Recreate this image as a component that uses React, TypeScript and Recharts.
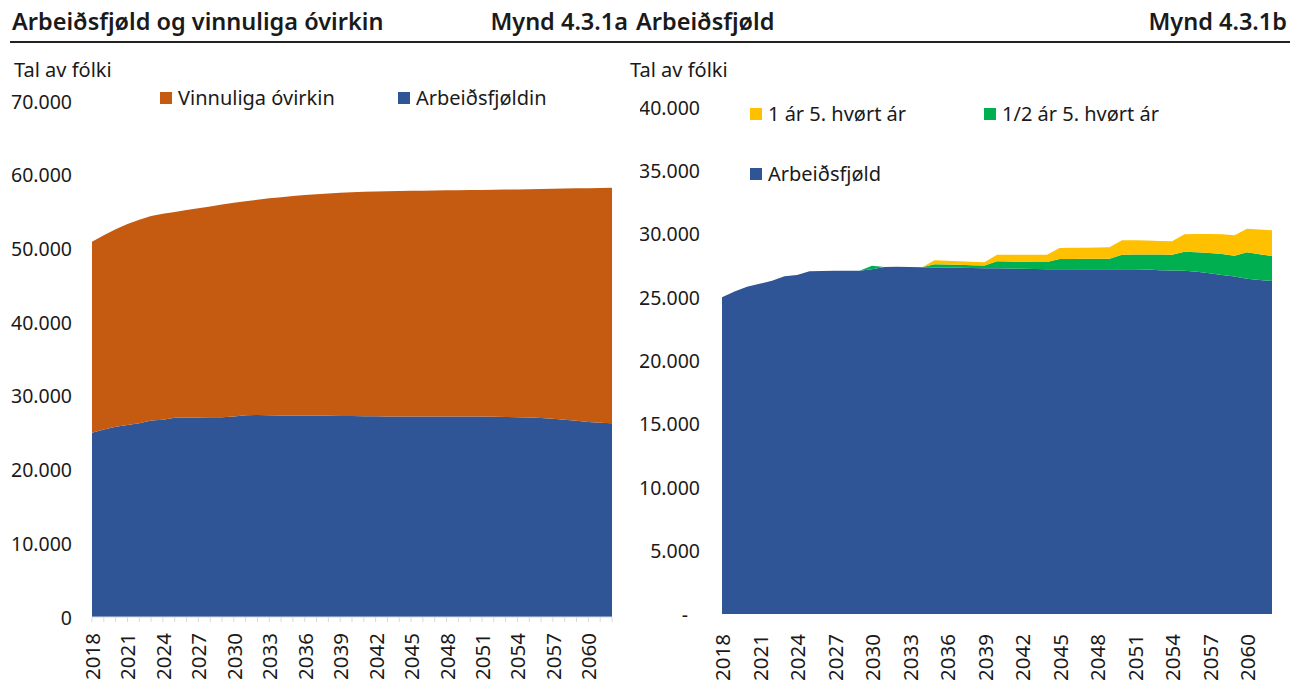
import React from 'react';
import { AreaChart, Area, XAxis, YAxis } from 'recharts';

const years = [
  '2018', '2019', '2020', '2021', '2022', '2023', '2024', '2025', '2026', '2027',
  '2028', '2029', '2030', '2031', '2032', '2033', '2034', '2035', '2036', '2037',
  '2038', '2039', '2040', '2041', '2042', '2043', '2044', '2045', '2046', '2047',
  '2048', '2049', '2050', '2051', '2052', '2053', '2054', '2055', '2056', '2057',
  '2058', '2059', '2060', '2061', '2062',
];

// Arbeiðsfjøld (same series in both panels)
const arbeidsfjold = [
  25000, 25450, 25820, 26050, 26300, 26650, 26750, 27040, 27060, 27080,
  27090, 27090, 27200, 27380, 27390, 27380, 27350, 27340, 27330, 27320,
  27300, 27280, 27270, 27250, 27230, 27210, 27200, 27190, 27190, 27190,
  27190, 27190, 27190, 27190, 27170, 27130, 27100, 27080, 27000, 26880,
  26750, 26620, 26450, 26360, 26270,
];

const ovirkin = [
  25900, 26350, 26780, 27250, 27600, 27750, 27950, 27910, 28140, 28370,
  28610, 28860, 29000, 29020, 29210, 29420, 29600, 29760, 29920, 30030,
  30150, 30270, 30350, 30430, 30490, 30550, 30590, 30630, 30650, 30670,
  30690, 30710, 30730, 30750, 30790, 30850, 30900, 30950, 31060, 31210,
  31370, 31530, 31730, 31850, 31970,
];

// extra on top of arbeiðsfjøld, 1/2 ár 5. hvørt ár
const halvtAr = [
  0, 0, 0, 0, 0, 0, 0, 0, 0, 0,
  0, 0, 280, 0, 0, 0, 0, 250, 240, 230,
  220, 210, 560, 560, 565, 565, 570, 820, 825, 830,
  835, 840, 1160, 1180, 1200, 1230, 1250, 1500, 1550, 1600,
  1650, 1650, 2090, 2030, 1970,
];

// extra on top of that, 1 ár 5. hvørt ár
const eittAr = [
  0, 0, 0, 0, 0, 0, 0, 0, 0, 0,
  0, 0, 0, 0, 0, 0, 0, 310, 300, 290,
  280, 270, 520, 535, 550, 565, 580, 870, 875, 885,
  890, 900, 1130, 1110, 1090, 1070, 1050, 1380, 1440, 1500,
  1560, 1610, 1860, 1950, 2030,
];

const leftTicks = [0, 10000, 20000, 30000, 40000, 50000, 60000, 70000];
const rightTicks = [0, 5000, 10000, 15000, 20000, 25000, 30000, 35000, 40000];

const BLUE = '#2F5597';
const ORANGE = '#C55A11';
const GREEN = '#00B050';
const YELLOW = '#FFC000';
const TEXT = '#1a1a1a';
const FONT = '"Noto Sans", sans-serif';

const data = years.map((y, i) => ({
  year: y,
  arbeidsfjold: arbeidsfjold[i],
  ovirkin: ovirkin[i],
  halvtAr: halvtAr[i],
  eittAr: eittAr[i],
}));

const fmt = (v: number) => String(v).replace(/\B(?=(\d{3})+(?!\d))/g, '.');

const YTick = (props: any) => {
  const { x, y, payload, dash } = props;
  const v = payload.value as number;
  if (dash && v === 0) {
    return (
      <text x={x - 12} y={y} textAnchor="end" dominantBaseline="central" fontSize={19.5} fill={TEXT} fontFamily={FONT}>
        -
      </text>
    );
  }
  return (
    <text x={x} y={y} textAnchor="end" dominantBaseline="central" fontSize={19.5} fill={TEXT} fontFamily={FONT}>
      {fmt(v)}
    </text>
  );
};

const XTick = (props: any) => {
  const { x, y, payload, index, offset } = props;
  if (index % 3 !== 0) return <g />;
  return (
    <text
      transform={`translate(${x},${y + offset}) rotate(-90)`}
      textAnchor="end"
      dominantBaseline="central"
      fontSize={20.5}
      fill={TEXT}
      fontFamily={FONT}
    >
      {payload.value}
    </text>
  );
};

const Swatch = ({ color, x, y, label }: { color: string; x: number; y: number; label: string }) => (
  <div style={{ position: 'absolute', left: x, top: y, display: 'flex', alignItems: 'center', fontSize: 20, color: TEXT }}>
    <span style={{ width: 12, height: 12, background: color, display: 'inline-block', marginRight: 6 }} />
    {label}
  </div>
);

const titleStyle = { position: 'absolute' as const, top: 5, fontSize: 23.5, fontWeight: 600 };

export default function App() {
  return (
    <div style={{ position: 'absolute', left: 0, top: 0, width: 1290, height: 695, background: '#fff', fontFamily: FONT, color: TEXT }}>
      <div style={{ ...titleStyle, left: 12 }}>Arbeiðsfjøld og vinnuliga óvirkin</div>
      <div style={{ ...titleStyle, right: 1290 - 628 }}>Mynd 4.3.1a</div>
      <div style={{ ...titleStyle, left: 636 }}>Arbeiðsfjøld</div>
      <div style={{ ...titleStyle, right: 3 }}>Mynd 4.3.1b</div>
      <div style={{ position: 'absolute', left: 10, top: 41, width: 1280, height: 2, background: '#222' }} />

      <div style={{ position: 'absolute', left: 14, top: 56, fontSize: 20 }}>Tal av fólki</div>
      <div style={{ position: 'absolute', left: 630, top: 56, fontSize: 20 }}>Tal av fólki</div>

      <Swatch color={ORANGE} x={160} y={84} label="Vinnuliga óvirkin" />
      <Swatch color={BLUE} x={398} y={84} label="Arbeiðsfjøldin" />

      <Swatch color={YELLOW} x={750} y={100} label="1 ár 5. hvørt ár" />
      <Swatch color={GREEN} x={984} y={100} label="1/2 ár 5. hvørt ár" />
      <Swatch color={BLUE} x={750} y={160} label="Arbeiðsfjøld" />

      <div style={{ position: 'absolute', left: 0, top: 0 }}>
        <AreaChart width={640} height={695} data={data} margin={{ top: 101, right: 28, left: 0, bottom: 0 }}>
          <XAxis
            dataKey="year"
            interval={0}
            height={78}
            tickSize={5}
            tickMargin={2}
            axisLine={{ stroke: '#d9d9d9' }}
            tickLine={{ stroke: '#d9d9d9' }}
            tick={<XTick offset={9} />}
          />
          <YAxis
            width={92}
            domain={[0, 70000]}
            ticks={leftTicks}
            axisLine={false}
            tickLine={false}
            tickSize={0}
            tickMargin={20}
            tick={<YTick />}
          />
          <Area type="linear" dataKey="arbeidsfjold" stackId="a" stroke="none" fill={BLUE} fillOpacity={1} isAnimationActive={false} />
          <Area type="linear" dataKey="ovirkin" stackId="a" stroke="none" fill={ORANGE} fillOpacity={1} isAnimationActive={false} />
        </AreaChart>
      </div>

      <div style={{ position: 'absolute', left: 640, top: 0 }}>
        <AreaChart width={650} height={695} data={data} margin={{ top: 107, right: 18, left: 0, bottom: 0 }}>
          <XAxis
            dataKey="year"
            interval={0}
            height={81}
            tickSize={0}
            tickMargin={0}
            axisLine={false}
            tickLine={false}
            tick={<XTick offset={20} />}
          />
          <YAxis
            width={82}
            domain={[0, 40000]}
            ticks={rightTicks}
            axisLine={false}
            tickLine={false}
            tickSize={0}
            tickMargin={22}
            tick={<YTick dash />}
          />
          <Area type="linear" dataKey="arbeidsfjold" stackId="a" stroke="none" fill={BLUE} fillOpacity={1} isAnimationActive={false} />
          <Area type="linear" dataKey="halvtAr" stackId="a" stroke="none" fill={GREEN} fillOpacity={1} isAnimationActive={false} />
          <Area type="linear" dataKey="eittAr" stackId="a" stroke="none" fill={YELLOW} fillOpacity={1} isAnimationActive={false} />
        </AreaChart>
      </div>
    </div>
  );
}
